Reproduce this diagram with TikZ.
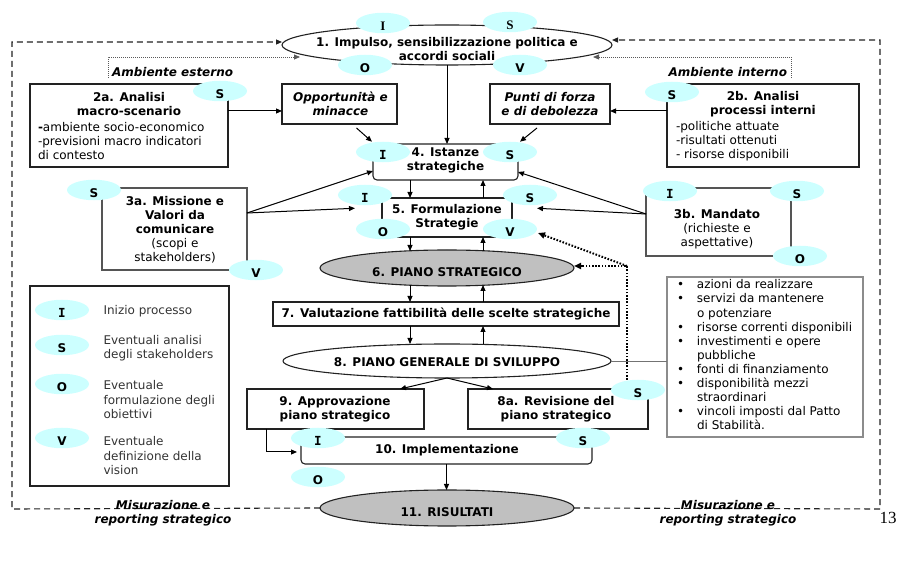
\documentclass[tikz,border=0pt]{standalone}
\usepackage{fontspec}
\setmainfont{DejaVu Sans}
\newfontfamily\pagefont{Liberation Serif}
\newfontfamily\barI{DejaVu Sans Mono}
\usetikzlibrary{arrows.meta,calc,shapes.geometric}
\definecolor{tagcyan}{HTML}{CCFFFF}
\definecolor{planfill}{HTML}{C0C0C0}
\definecolor{edge}{HTML}{222222}
\definecolor{softedge}{HTML}{555555}
\definecolor{legendtext}{HTML}{333333}
\begin{document}
\begin{tikzpicture}[x=1pt,y=-1pt,
  every node/.style={inner sep=0pt, outer sep=0pt},
  txt/.style={font=\fontsize{12}{14}\selectfont, align=center},
  btxt/.style={font=\fontsize{12}{14}\selectfont\bfseries, align=center},
  itxt/.style={font=\fontsize{12}{14}\selectfont\bfseries\itshape, align=center},
  box/.style={rectangle, draw=edge, line width=1.1pt},
  softbox/.style={rectangle, draw=softedge, line width=1.1pt},
  rbox/.style={box, rounded corners=4pt},
  oval/.style={ellipse, draw=edge, line width=1.1pt},
  plan/.style={oval, fill=planfill},
  tag/.style={ellipse, fill=tagcyan, minimum width=54pt, minimum height=17pt,
    font=\fontsize{12}{12}\selectfont\bfseries, text height=14.5pt, text depth=0pt},
  tagI/.style={tag, font=\fontsize{12.5}{12}\selectfont\barI\bfseries},
  tagserif/.style={tag, font=\fontsize{13}{12}\selectfont\pagefont\bfseries},
  arr/.style={draw=black, line width=1pt, -{Triangle[length=6pt,width=5pt]}},
  looparr/.style={draw=edge, line width=1.1pt, dash pattern=on 6pt off 4pt,
    -{Triangle[length=6pt,width=5pt]}},
  ambarr/.style={draw=black!65, line width=0.8pt, dash pattern=on 1pt off 1pt,
    -{Triangle[length=6pt,width=5pt]}},
  feedarr/.style={draw=black, line width=2pt, dash pattern=on 1.6pt off 1.6pt,
    -{Triangle[length=7pt,width=6pt]}},
  link/.style={draw=black!55, line width=0.8pt}
]
\useasboundingbox (0,0) rectangle (898,569);

% ---------- shapes ----------
\node[oval, minimum width=330pt, minimum height=40pt] (n1) at (447,45) {};
\node[box, minimum width=198pt, minimum height=83pt] (n2a) at (129,125.5) {};
\node[box, minimum width=115pt, minimum height=40pt] (opp) at (339.5,104) {};
\node[box, minimum width=120pt, minimum height=40pt] (pdf) at (550,104) {};
\node[box, minimum width=192pt, minimum height=83pt] (n2b) at (763,125.5) {};
\node[rbox, minimum width=145pt, minimum height=36pt] (n4) at (445.5,162) {};
\node[box, minimum width=130pt, minimum height=39pt] (n5) at (447,217.5) {};
\node[softbox, minimum width=145pt, minimum height=82pt] (n3a) at (174.5,229) {};
\node[softbox, minimum width=145pt, minimum height=68pt] (n3b) at (718.5,222) {};
\node[plan, minimum width=254pt, minimum height=36pt] (n6) at (447,268) {};
\node[box, minimum width=346pt, minimum height=24pt] (n7) at (446,314) {};
\node[oval, minimum width=328pt, minimum height=34pt] (n8) at (447,361) {};
\node[rectangle, draw=black!45, line width=1.1pt, minimum width=196pt, minimum height=160pt] (bul) at (765,357) {};
\node[box, minimum width=199pt, minimum height=200pt] (leg) at (129.5,386) {};
\node[box, minimum width=177pt, minimum height=40pt] (n9) at (335.5,409) {};
\node[box, minimum width=180pt, minimum height=40pt] (n8a) at (558,409) {};
\node[rbox, minimum width=291pt, minimum height=27pt] (n10) at (446.5,450.5) {};
\node[plan, minimum width=254pt, minimum height=36pt] (n11) at (447,508) {};

% ---------- lanes and corner points ----------
\coordinate (laneL) at (410,0);
\coordinate (laneR) at (483,0);
\coordinate (lb) at (12,509);
\coordinate (lt) at (12,42);
\coordinate (rb) at (880,509);
\coordinate (rt) at (880,40);
\coordinate (ae) at (108,78);
\coordinate (ai) at (791,78);
\coordinate (fk) at (627,266);

% ---------- measurement loop ----------
\draw[looparr] (n11.west) -- (lb) -- (lt) -- (lt -| n1.west);
\draw[looparr] (n11.east) -- (rb) -- (rt) -- (rt -| n1.east);
\draw[ambarr] (ae) |- ($(n1.west)+(18,12)$);
\draw[ambarr] (ai) |- ($(n1.east)+(-19,12)$);

% ---------- tags ----------
\node[tagserif] (i1) at (383,23) {I};
\node[tagserif] (s1) at (510,22) {S};
\node[tag] (o1) at (365,65) {O};
\node[tag] (v1) at (520,65) {V};
\node[tag] (s2a) at (220,91) {S};
\node[tag] (s2b) at (672,92) {S};
\node[tagI] (i4) at (383,152) {I};
\node[tag] (s4) at (510,152) {S};
\node[tagI] (i5) at (365,195) {I};
\node[tag] (s5) at (530,195) {S};
\node[tag] (o5) at (383,229) {O};
\node[tag] (v5) at (510,229) {V};
\node[tag] (s3a) at (94,190) {S};
\node[tag] (v3a) at (256,270) {V};
\node[tagI] (i3b) at (670,191) {I};
\node[tag] (s3b) at (797,191) {S};
\node[tag] (o3b) at (800,256) {O};
\node[tag] (s8a) at (638,390) {S};
\node[tagI] (i10) at (318,438) {I};
\node[tag] (s10) at (583,438) {S};
\node[tag] (o10) at (318,477) {O};
\node[tagI] (li) at (62,310) {I};
\node[tag] (ls) at (62,345) {S};
\node[tag] (lo) at (62,384) {O};
\node[tag] (lv) at (62,438) {V};

% ---------- connectors ----------
\draw[arr] (n1.south) -- (n1.south |- n4.north);
\draw[arr] ($(n2a.north east)+(0,27)$) -- ($(opp.north west)+(0,27)$);
\draw[arr] ($(n2b.north west)+(0,27)$) -- ($(pdf.north east)+(0,27)$);
\draw[arr] ($(opp.south)+(17,4)$) -- ($(i4.north)+(-11,0)$);
\draw[arr] ($(pdf.south)+(-13,4)$) -- ($(s4.north)+(10,0)$);
\draw[arr] ($(n3a.east)+(0,-16)$) -- ($(n4.south west)+(0,-9)$);
\draw[arr] ($(n3a.east)+(0,-16)$) -- ($(i5.south)+(-10,3)$);
\draw[arr] ($(n3b.west)+(0,-8)$) -- ($(n4.south east)+(0,-8)$);
\draw[arr] ($(n3b.west)+(0,-8)$) -- ($(s5.south)+(7,3)$);
\draw[arr] (n4.south -| laneL) -- (n5.north -| laneL);
\draw[arr] (n5.north -| laneR) -- (n4.south -| laneR);
\draw[arr] (n5.south -| laneL) -- ($(n6.north -| laneL)+(0,1)$);
\draw[arr] ($(n6.north -| laneR)+(0,1)$) -- (n5.south -| laneR);
\draw[arr] ($(n6.south -| laneL)+(0,-1)$) -- (n7.north -| laneL);
\draw[arr] (n7.north -| laneR) -- ($(n6.south -| laneR)+(0,-1)$);
\draw[arr] (n7.south -| laneL) -- (n8.north -| laneL);
\draw[arr] (n8.north -| laneR) -- (n7.south -| laneR);
\draw[arr] (n8.south) -- ($(n9.north east)+(-24,0)$);
\draw[arr] (n8.south) -- ($(n8a.north west)+(25,0)$);
\draw[arr] ($(n9.south west)+(19,0)$) |- ($(n10.west)+(-4,1.5)$);
\draw[arr] (n10.south) -- (n10.south |- n11.north);
\draw[link] (n8.east) -- (bul.west |- n8.east);
\draw[feedarr] ($(s8a.north)+(-11,0)$) -- (fk) -- (fk -| n6.east);
\draw[feedarr] (fk) -- ($(v5.east)+(1,4)$);

% ---------- texts ----------
\node[btxt] (t1) at (447,49.5) {1. Impulso, sensibilizzazione politica e\\accordi sociali};
\node[itxt, anchor=west] (tae) at (112,72) {Ambiente esterno};
\node[itxt, anchor=east] (tai) at (787,72) {Ambiente interno};
\node[btxt] (t2a) at (129,104.5) {2a. Analisi\\macro-scenario};
\node[txt, align=left, anchor=west] (l2a) at (38,141) {{\bfseries-}ambiente socio-economico\\-previsioni macro indicatori\\di contesto};
\node[itxt] (topp) at (340.5,104) {Opportunità e\\minacce};
\node[itxt] (tpdf) at (550,104) {Punti di forza\\e di debolezza};
\node[btxt] (t2b) at (763,104.5) {2b. Analisi\\processi interni};
\node[txt, align=left, anchor=west] (l2b) at (676,141) {-politiche attuate\\-risultati ottenuti\\- risorse disponibili};
\node[btxt] (t4) at (445.5,160.5) {4. Istanze\\strategiche};
\node[btxt] (t5) at (447,217) {5. Formulazione\\Strategie};
\node[txt] (t3a) at (175,230) {{\bfseries 3a. Missione e}\\{\bfseries Valori da}\\{\bfseries comunicare}\\(scopi e\\stakeholders)};
\node[txt] (t3b) at (717,229) {{\bfseries 3b. Mandato}\\(richieste e\\aspettative)};
\node[btxt] (t6) at (447,272) {6. PIANO STRATEGICO};
\node[btxt] (t7) at (446,314) {7. Valutazione fattibilità delle scelte strategiche};
\node[btxt] (t8) at (447,362) {8. PIANO GENERALE DI SVILUPPO};
\node[btxt] (t9) at (335,409) {9. Approvazione\\piano strategico};
\node[btxt] (t8a) at (556,409) {8a. Revisione del\\piano strategico};
\node[btxt] (t10) at (447,450) {10. Implementazione};
\node[btxt] (t11) at (447,512) {11. RISULTATI};
\node[itxt] (tml) at (163,513.5) {Misurazione e\\reporting strategico};
\node[itxt] (tmr) at (728,513.5) {Misurazione e\\reporting strategico};
\node[font=\fontsize{17}{17}\selectfont\pagefont] (pg) at (888,518) {13};

% bullet list
\node[anchor=north west, font=\fontsize{12}{14.1}\selectfont] (blist) at (677,279) {%
\begin{tabular}{@{}p{20pt}@{}l@{}}
\textbullet & azioni da realizzare\\
\textbullet & servizi da mantenere\\
 & o potenziare\\
\textbullet & risorse correnti disponibili\\
\textbullet & investimenti e opere\\
 & pubbliche\\
\textbullet & fonti di finanziamento\\
\textbullet & disponibilità mezzi\\
 & straordinari\\
\textbullet & vincoli imposti dal Patto\\
 & di Stabilità.
\end{tabular}};

% legend texts
\begin{scope}[every node/.style={txt, align=left, anchor=west, text=legendtext, font=\fontsize{12}{14.5}\selectfont}]
\node (lti) at (100,311) {Inizio processo};
\node (lts) at (100,348) {Eventuali analisi\\degli stakeholders};
\node (lto) at (100,400) {Eventuale\\formulazione degli\\obiettivi};
\node (ltv) at (100,456) {Eventuale\\definizione della\\vision};
\end{scope}
\end{tikzpicture}
\end{document}
